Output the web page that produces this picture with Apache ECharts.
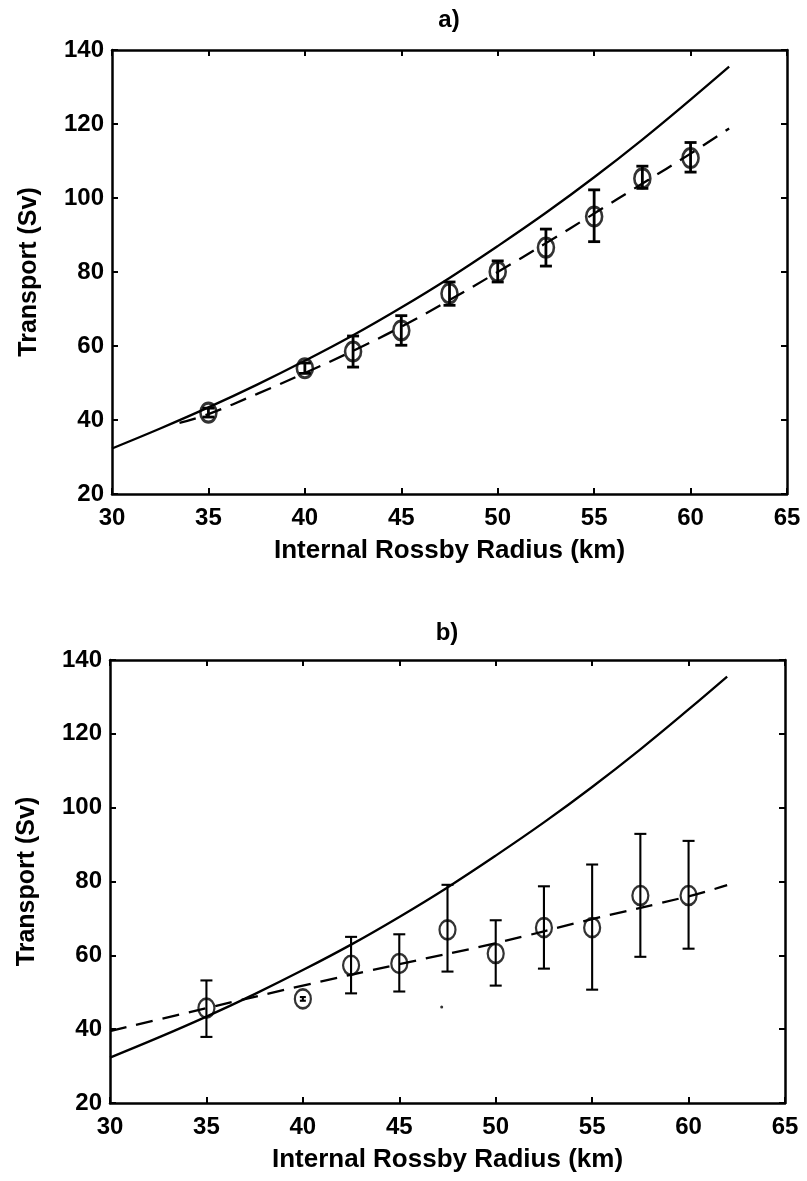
<!DOCTYPE html>
<html>
<head>
<meta charset="utf-8">
<title>Transport vs Internal Rossby Radius</title>
<script src="https://cdn.jsdelivr.net/npm/echarts@6/dist/echarts.min.js"></script>
<style>
    html, body { margin: 0; padding: 0; background: #fff; }
    #chart { width: 807px; height: 1181px; }
</style>
</head>
<body>
<div id="chart"></div>
<script>
// 理论曲线（两幅图相同）
const theoryX = [30, 32.5, 35, 37.5, 40, 42.5, 45, 47.5, 50, 52.5, 55, 57.5, 60, 62];
const theoryY = [32.3, 37.7, 43.4, 49.5, 56, 62.9, 70.4, 78.4, 87, 96, 105.6, 115.8, 126.6, 135.5];

// 实验点横坐标
const radius = [35, 40, 42.5, 45, 47.5, 50, 52.5, 55, 57.5, 60];

// a) 数据
const transportA = [42, 54, 58.5, 64.2, 74.2, 80.1, 86.6, 95, 105.3, 110.8];
const errLowA = [40.8, 52.6, 54.3, 60.2, 71, 77.3, 81.6, 88.2, 102.6, 107];
const errHighA = [43.2, 55.4, 62.7, 68.2, 77.3, 83, 91.6, 102.2, 108.6, 115];
const fitAX = [33.5, 35, 37.5, 40, 42.5, 45, 47.5, 50, 52.5, 55, 57.5, 60, 62];
const fitAY = [39.2, 41.6, 47, 52.7, 58.7, 65.2, 72.4, 80, 87.8, 95.8, 103.9, 112, 118.8];

// b) 数据
const transportB = [45.7, 48.2, 57.3, 57.8, 66.9, 60.5, 67.5, 67.5, 76.2, 76.2];
const errLowB = [37.9, 47.7, 49.7, 50.2, 55.6, 51.8, 56.4, 50.7, 59.6, 61.8];
const errHighB = [53.2, 48.7, 65, 65.7, 79.1, 69.5, 78.7, 84.6, 92.9, 91];
const fitBX = [30, 35, 40, 45, 50, 55, 60, 62];
const fitBY = [39.5, 45.7, 51.8, 57.6, 63.3, 69.8, 76, 79];
// b) 图中的小黑点
const speckB = [[47.2, 46]];

const FONT = "'Liberation Sans', Arial, sans-serif";

function zip(xs, ys) {
    return xs.map(function (x, i) { return [x, ys[i]]; });
}

function errData(lo, hi) {
    return radius.map(function (x, i) { return [x, lo[i], hi[i]]; });
}

// 误差棒
function errRender(width, capHalf) {
    return function (params, api) {
        let x = api.value(0);
        let top = api.coord([x, api.value(2)]);
        let bot = api.coord([x, api.value(1)]);
        // 误差很小的点，端帽画短一些
        let c = Math.abs(bot[1] - top[1]) < 8 ? 3 : capHalf;
        let st = { stroke: '#000', lineWidth: width };
        return {
            type: 'group',
            children: [
                { type: 'line', shape: { x1: top[0], y1: top[1], x2: bot[0], y2: bot[1] }, style: st },
                { type: 'line', shape: { x1: top[0] - c, y1: top[1], x2: top[0] + c, y2: top[1] }, style: st },
                { type: 'line', shape: { x1: bot[0] - c, y1: bot[1], x2: bot[0] + c, y2: bot[1] }, style: st }
            ]
        };
    };
}

function xAxisOf(grid, main) {
    return {
        type: 'value',
        gridIndex: grid,
        position: main ? 'bottom' : 'top',
        min: 30, max: 65, interval: 5,
        name: main ? 'Internal Rossby Radius (km)' : '',
        nameLocation: 'middle',
        nameGap: 44,
        nameTextStyle: { color: '#000', fontSize: 26, fontWeight: 'bold', fontFamily: FONT },
        axisLine: { show: true, lineStyle: { color: '#000', width: 2.5 } },
        axisTick: { show: true, inside: true, length: 6, lineStyle: { color: '#000', width: 2 } },
        axisLabel: { show: main, color: '#000', fontSize: 24, fontWeight: 'bold', fontFamily: FONT, margin: 12 },
        splitLine: { show: false }
    };
}

function yAxisOf(grid, main) {
    return {
        type: 'value',
        gridIndex: grid,
        position: main ? 'left' : 'right',
        min: 20, max: 140, interval: 20,
        name: main ? 'Transport (Sv)' : '',
        nameLocation: 'middle',
        nameGap: 70,
        nameTextStyle: { color: '#000', fontSize: 25, fontWeight: 'bold', fontFamily: FONT },
        axisLine: { show: true, lineStyle: { color: '#000', width: 2.5 } },
        axisTick: { show: true, inside: true, length: 6, lineStyle: { color: '#000', width: 2 } },
        axisLabel: { show: main, color: '#000', fontSize: 24, fontWeight: 'bold', fontFamily: FONT, margin: 8 },
        splitLine: { show: false }
    };
}

function panelSeries(xi, yi, fitX, fitY, trans, lo, hi, errW, ringW) {
    return [
        {
            type: 'line', xAxisIndex: xi, yAxisIndex: yi,
            data: zip(theoryX, theoryY), smooth: 0.4, showSymbol: false,
            lineStyle: { color: '#000', width: 2.3 }
        },
        {
            type: 'line', xAxisIndex: xi, yAxisIndex: yi,
            data: zip(fitX, fitY), smooth: 0.4, showSymbol: false,
            lineStyle: { color: '#000', width: 2.3, type: [17, 10] }
        },
        {
            type: 'custom', xAxisIndex: xi, yAxisIndex: yi,
            data: errData(lo, hi), renderItem: errRender(errW, 6)
        },
        {
            type: 'scatter', xAxisIndex: xi, yAxisIndex: yi,
            data: zip(radius, trans), symbol: 'circle', symbolSize: [16, 19],
            itemStyle: { color: 'rgba(0,0,0,0)', borderColor: '#000', borderWidth: ringW }
        }
    ];
}

let chart = echarts.init(document.getElementById('chart'));
let series = panelSeries(0, 0, fitAX, fitAY, transportA, errLowA, errHighA, 2.8, 2.8)
    .concat(panelSeries(2, 2, fitBX, fitBY, transportB, errLowB, errHighB, 2.1, 2.4));
series.push({
    type: 'scatter', xAxisIndex: 2, yAxisIndex: 2,
    data: speckB, symbolSize: 3, itemStyle: { color: '#000' }
});

let option = {
    animation: false,
    backgroundColor: '#fff',
    grid: [
        { left: 112, top: 50, width: 675, height: 444 },
        { left: 110, top: 660, width: 675, height: 443 }
    ],
    xAxis: [xAxisOf(0, true), xAxisOf(0, false), xAxisOf(1, true), xAxisOf(1, false)],
    yAxis: [yAxisOf(0, true), yAxisOf(0, false), yAxisOf(1, true), yAxisOf(1, false)],
    graphic: [
        { type: 'text', x: 449, y: 20, style: { text: 'a)', fill: '#000', font: 'bold 24px ' + FONT, textAlign: 'center', textVerticalAlign: 'middle' } },
        { type: 'text', x: 447, y: 633, style: { text: 'b)', fill: '#000', font: 'bold 24px ' + FONT, textAlign: 'center', textVerticalAlign: 'middle' } }
    ],
    series: series
};
chart.setOption(option);
</script>
</body>
</html>
